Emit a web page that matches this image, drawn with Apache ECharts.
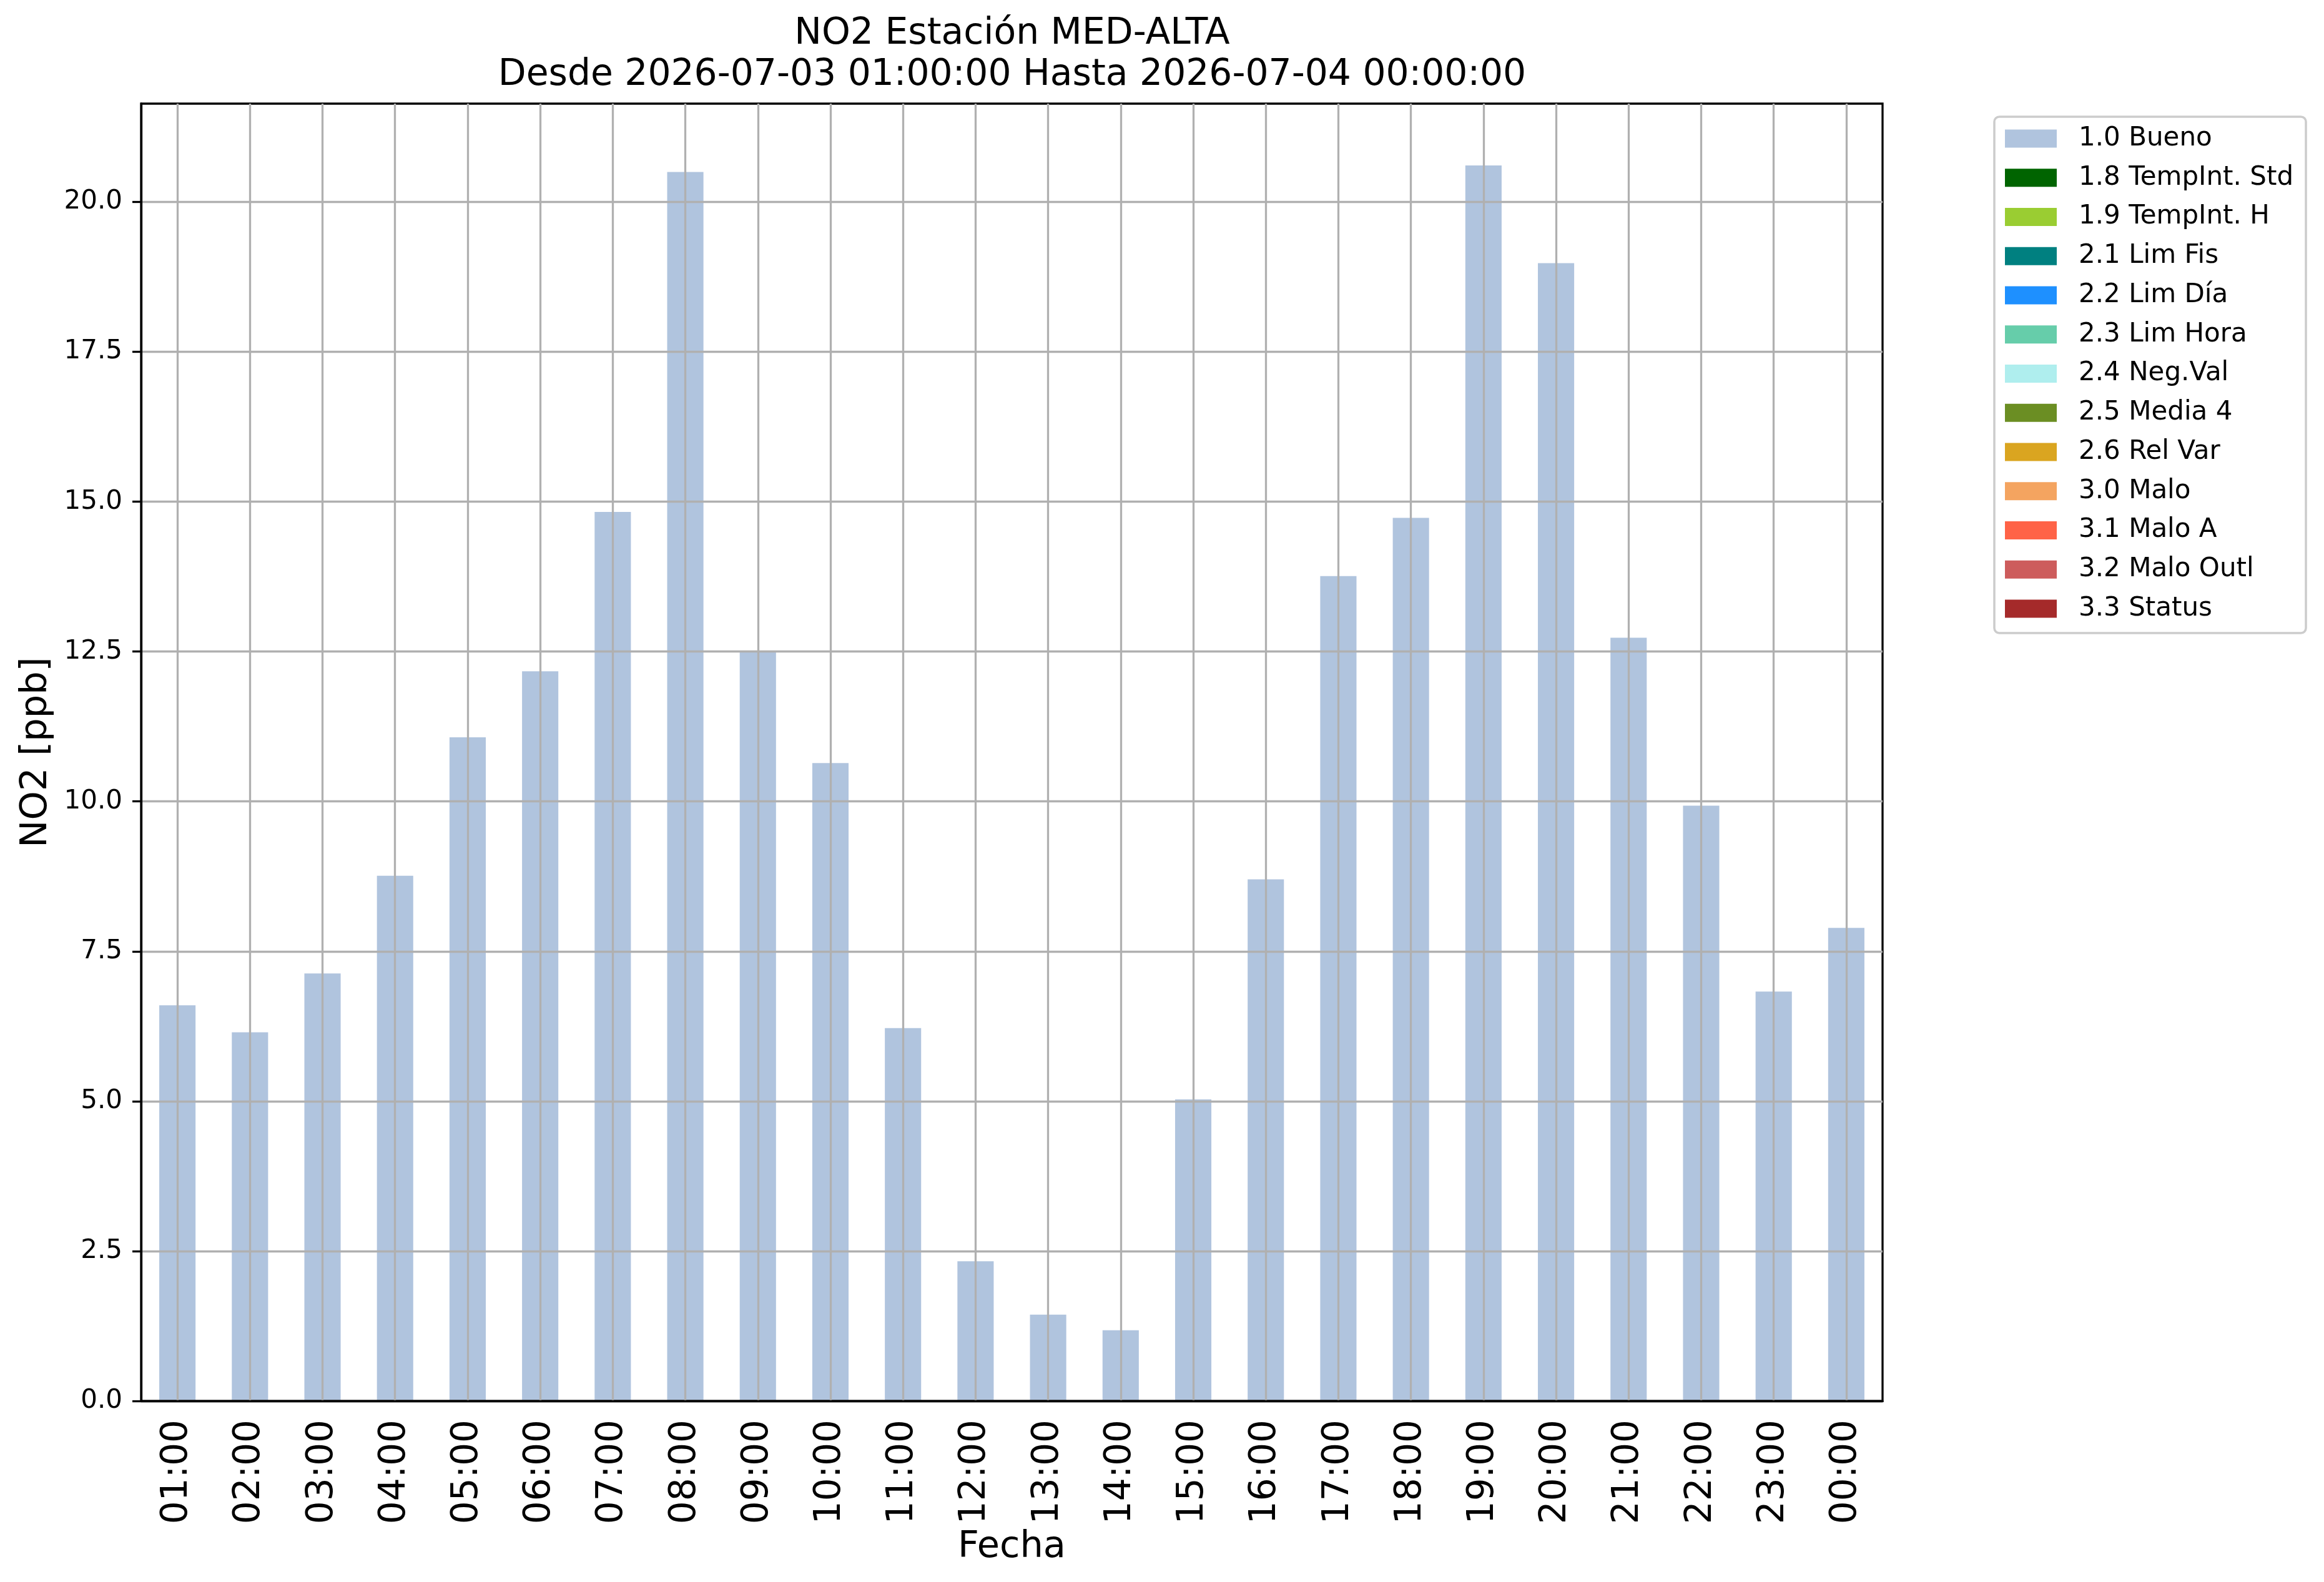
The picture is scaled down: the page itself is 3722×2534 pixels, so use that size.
<!DOCTYPE html>
<html><head><meta charset="utf-8">
<script src="https://cdn.jsdelivr.net/npm/echarts@6/dist/echarts.min.js"></script>
<style>html,body{margin:0;padding:0;background:#fff}#c{width:3722px;height:2534px}</style>
</head><body><div id="c"></div>
<script>
const categories = ['01:00','02:00','03:00','04:00','05:00','06:00','07:00','08:00','09:00','10:00','11:00','12:00',
  '13:00','14:00','15:00','16:00','17:00','18:00','19:00','20:00','21:00','22:00','23:00','00:00'];
const no2Values = [6.60,6.15,7.13,8.76,11.07,12.17,14.83,20.50,12.50,10.64,6.22,2.33,
  1.44,1.18,5.03,8.70,13.76,14.73,20.61,18.98,12.73,9.93,6.83,7.89];
const flagNames = ['1.0 Bueno','1.8 TempInt. Std','1.9 TempInt. H','2.1 Lim Fis','2.2 Lim Día','2.3 Lim Hora',
  '2.4 Neg.Val','2.5 Media 4','2.6 Rel Var','3.0 Malo','3.1 Malo A','3.2 Malo Outl','3.3 Status'];
const flagColors = ['#b0c4de','#006400','#9acd32','#008080','#1e90ff','#66cdaa',
  '#afeeee','#6b8e23','#daa520','#f4a460','#ff6347','#cd5c5c','#a52a2a'];
const yTicks = [0,2.5,5,7.5,10,12.5,15,17.5,20];
const yMax = 21.64;
const titleLines = ['NO2 Estación MED-ALTA','Desde 2026-07-03 01:00:00 Hasta 2026-07-04 00:00:00'];

const FONT = 'DejaVu Sans';
const chart = echarts.init(document.getElementById('c'), null, {renderer:'canvas'});

const series = flagNames.map((n, i) => ({
  name: n,
  type: 'bar',
  stack: 'flags',
  barWidth: '50%',
  z: -1,
  itemStyle: {color: flagColors[i]},
  data: i === 0 ? no2Values : []
}));

chart.setOption({
  animation: false,
  backgroundColor: '#ffffff',
  graphic: [{
    type: 'text', x: 1621, y: 22, z: 10,
    style: {text: titleLines.join('\n'), fontFamily: FONT, fontSize: 58.3, lineHeight: 66,
      fill: '#000', align: 'center', verticalAlign: 'top'}
  }],
  grid: {left: 226, right: 707, top: 166, bottom: 290, show: true,
    borderColor: '#000', borderWidth: 3.3, backgroundColor: 'transparent', containLabel: false},
  legend: {
    orient: 'vertical', left: 3194, top: 187,
    padding: [14, 20, 18, 17],
    itemWidth: 83, itemHeight: 29, itemGap: 20.75,
    borderColor: '#cccccc', borderWidth: 3.5, borderRadius: 8,
    backgroundColor: '#fff',
    icon: 'rect',
    textStyle: {fontFamily: FONT, fontSize: 42, color: '#000', lineHeight: 42, padding: [0,0,0,30]},
    data: flagNames
  },
  xAxis: {
    type: 'category', data: categories,
    name: 'Fecha', nameLocation: 'middle', nameGap: 190,
    nameTextStyle: {fontFamily: FONT, fontSize: 59, color: '#000'},
    axisLine: {lineStyle: {color: '#000', width: 3.3}},
    axisTick: {alignWithLabel: true, length: 15, lineStyle: {color: '#000', width: 3.3}},
    axisLabel: {rotate: 90, interval: 0, margin: 30, fontFamily: FONT, fontSize: 58, color: '#000'},
    splitLine: {show: true, alignWithLabel: true, lineStyle: {color: '#b0b0b0', width: 3.3}}
  },
  yAxis: {
    type: 'value', min: 0, max: yMax, interval: 2.5,
    name: 'NO2 [ppb]', nameLocation: 'middle', nameGap: 138, nameRotate: 90,
    nameTextStyle: {fontFamily: FONT, fontSize: 59, color: '#000'},
    axisLine: {show: true, lineStyle: {color: '#000', width: 3.3}},
    axisTick: {show: true, length: 14, lineStyle: {color: '#000', width: 3.3}, customValues: yTicks},
    axisLabel: {margin: 30, fontFamily: FONT, fontSize: 42, color: '#000', customValues: yTicks,
      formatter: v => (Math.abs(v / 2.5 - Math.round(v / 2.5)) < 1e-6 ? v.toFixed(1) : '')},
    splitLine: {show: true, lineStyle: {color: '#b0b0b0', width: 3.3}}
  },
  series: series
});
</script></body></html>
